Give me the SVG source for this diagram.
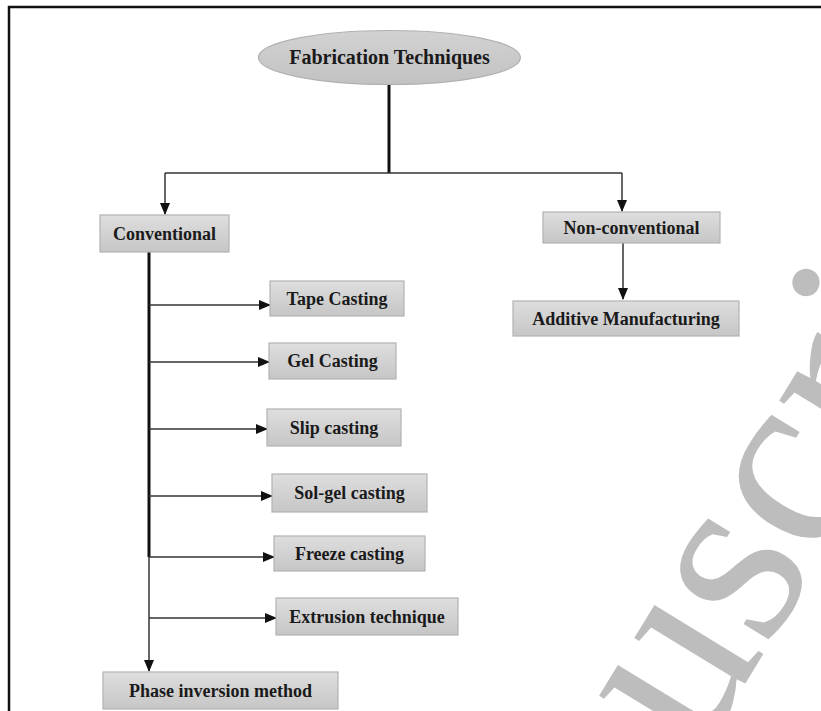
<svg xmlns="http://www.w3.org/2000/svg" width="821" height="711" viewBox="0 0 821 711">
<defs>
<linearGradient id="boxg" x1="0" y1="0" x2="0" y2="1">
<stop offset="0" stop-color="#dedede"/>
<stop offset="1" stop-color="#c6c6c6"/>
</linearGradient>
<linearGradient id="ellg" x1="0" y1="0" x2="0" y2="1">
<stop offset="0" stop-color="#d2d2d2"/>
<stop offset="1" stop-color="#c2c2c2"/>
</linearGradient>
<marker id="arr" markerUnits="userSpaceOnUse" markerWidth="12" markerHeight="10" refX="11" refY="5" orient="auto">
<path d="M0,0 L12,5 L0,10 Z" fill="#111"/>
</marker>
</defs>
<style>
.box{fill:url(#boxg);stroke:#b2b2b2;stroke-width:1.2}
.lbl{font-family:"Liberation Serif",serif;font-weight:bold;font-size:18px;fill:#1a1a1a;text-anchor:middle}
.ln{stroke:#333;stroke-width:1.5;fill:none}
.thick{stroke:#111;stroke-width:3;fill:none}
.wm{font-family:"Liberation Serif",serif;font-size:258px;fill:#bdbdbd}
</style>
<rect width="821" height="711" fill="#fff"/>
<text class="wm" transform="translate(452,1164) rotate(-58.6)">Manuscript</text>
<path d="M9,711 V7 H821" fill="none" stroke="#111" stroke-width="2.5"/>
<g id="connectors">
<path class="thick" d="M389,85 V173"/>
<path class="ln" d="M165,173 H622"/>
<path class="ln" d="M165,173 V214" marker-end="url(#arr)"/>
<path class="ln" d="M622,173 V211" marker-end="url(#arr)"/>
<path class="ln" d="M623,243 V299" marker-end="url(#arr)"/>
<path class="thick" d="M149,252 V557"/>
<path class="ln" d="M149,557 V671" marker-end="url(#arr)"/>
<path class="ln" d="M149,305 H270" marker-end="url(#arr)"/>
<path class="ln" d="M149,362 H269" marker-end="url(#arr)"/>
<path class="ln" d="M149,429 H267" marker-end="url(#arr)"/>
<path class="ln" d="M149,496 H272" marker-end="url(#arr)"/>
<path class="ln" d="M149,557 H274" marker-end="url(#arr)"/>
<path class="ln" d="M149,618 H276" marker-end="url(#arr)"/>
</g>
<g id="fabrication">
<ellipse cx="389.5" cy="57.5" rx="131" ry="27" fill="url(#ellg)" stroke="#b0b0b0" stroke-width="1.2"/>
<text class="lbl" x="389.5" y="64" style="font-size:20px">Fabrication Techniques</text>
</g>
<g id="conventional">
<rect class="box" x="100" y="215" width="129" height="37"/>
<text class="lbl" x="164.5" y="240">Conventional</text>
</g>
<g id="nonconventional">
<rect class="box" x="543" y="212" width="177" height="31"/>
<text class="lbl" x="631.5" y="234">Non-conventional</text>
</g>
<g id="additive">
<rect class="box" x="513" y="301" width="226" height="35"/>
<text class="lbl" x="626" y="325">Additive Manufacturing</text>
</g>
<g id="tape">
<rect class="box" x="270" y="281" width="134" height="35"/>
<text class="lbl" x="337" y="305">Tape Casting</text>
</g>
<g id="gel">
<rect class="box" x="269" y="343" width="127" height="36"/>
<text class="lbl" x="332.5" y="367">Gel Casting</text>
</g>
<g id="slip">
<rect class="box" x="267" y="409" width="134" height="37"/>
<text class="lbl" x="334" y="434">Slip casting</text>
</g>
<g id="solgel">
<rect class="box" x="272" y="474" width="155" height="38"/>
<text class="lbl" x="349.5" y="499">Sol-gel casting</text>
</g>
<g id="freeze">
<rect class="box" x="274" y="536" width="151" height="35"/>
<text class="lbl" x="349.5" y="560">Freeze casting</text>
</g>
<g id="extrusion">
<rect class="box" x="276" y="598" width="182" height="37"/>
<text class="lbl" x="367" y="623">Extrusion technique</text>
</g>
<g id="phase">
<rect class="box" x="103" y="672" width="235" height="37"/>
<text class="lbl" x="220.5" y="697">Phase inversion method</text>
</g>
</svg>
